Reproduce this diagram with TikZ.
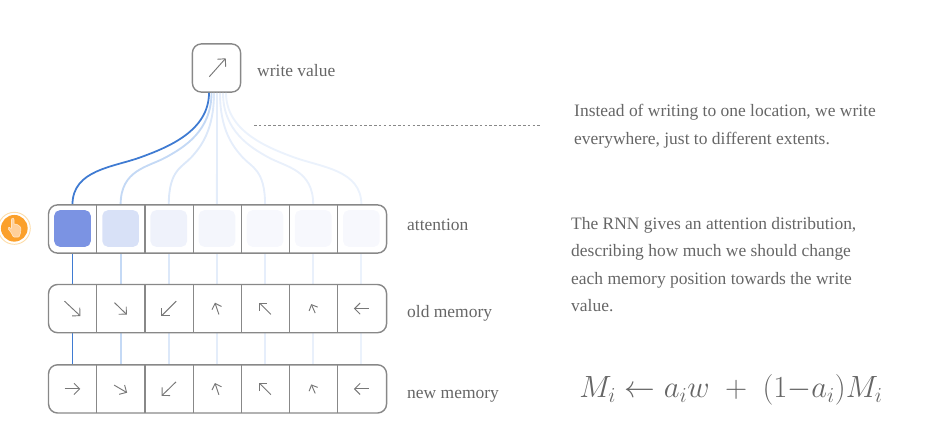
\documentclass[tikz,border=0pt]{standalone}
\usepackage{amsmath}
\usepackage{fontspec}
\setmainfont{Liberation Serif}
\usetikzlibrary{arrows.meta,calc}

\definecolor{framegray}{HTML}{888888}
\definecolor{textgray}{HTML}{666666}
\definecolor{arrowgray}{HTML}{777777}
\definecolor{linkone}{HTML}{3F7BD2}
\definecolor{linktwo}{HTML}{C4D9F5}
\definecolor{linkthree}{HTML}{DCE8F9}
\definecolor{linkfour}{HTML}{E4EDFA}
\definecolor{linkfive}{HTML}{E6EEFB}
\definecolor{linksix}{HTML}{E9F0FB}
\definecolor{linkseven}{HTML}{EBF2FC}
\definecolor{attnone}{HTML}{7B93E3}
\definecolor{attntwo}{HTML}{D8E1F7}
\definecolor{attnthree}{HTML}{EFF2FB}
\definecolor{attnfour}{HTML}{F4F6FC}
\definecolor{attnrest}{HTML}{F7F8FD}
\definecolor{handorange}{HTML}{FBA02B}
\definecolor{handring}{HTML}{FDDDAA}
\definecolor{handfill}{HTML}{FFD09A}
\definecolor{handline}{HTML}{FFE6C6}

\tikzset{
    cellbox/.style={minimum width=1.4445cm, minimum height=1.446cm, inner sep=0pt},
    rowframe/.style={draw=framegray, line width=1.2pt, rounded corners=0.27cm, minimum width=10.14cm, minimum height=1.446cm, inner sep=0pt},
    divider/.style={draw=framegray, line width=1pt},
    attncell/.style={rounded corners=0.17cm, minimum size=1.1cm, inner sep=0pt},
    labeltext/.style={text=textgray, font=\fontsize{14.9}{18}\selectfont, anchor=base west, inner sep=0pt},
    notetext/.style={text=textgray, font=\fontsize{14.9}{23.5}\selectfont, anchor=north west, inner sep=0pt, align=left},
    vec/.style={arrowgray, line width=0.8pt, -{Straight Barb[length=#1*1pt, width=#1*2pt]}},
    vec/.default=4.8
}

\begin{document}
\begin{tikzpicture}[x=0.03cm,y=-0.03cm]
        \useasboundingbox (0,0) rectangle (943,444);

        % Write value box
        \node[rowframe, minimum width=1.446cm] (write) at (216.5,68) {};
        \coordinate (writetail) at (209.3,76.7);
        \coordinate (writehead) at (225.7,58.3);
        \draw[vec] (writetail) -- (writehead);
        \node[labeltext] (writelabel) at (257,76) {write value};

        % Dashed leader
        \coordinate (leaderstart) at (254,125.5);
        \coordinate (leaderend) at (541,125.5);
        \draw[framegray, line width=0.6pt, dash pattern=on 2.2pt off 1.9pt] (leaderstart) -- (leaderend);

        % Cell nodes of the three rows
        \foreach \i in {1,...,7} {
            \node[cellbox] (attn\i) at ({48.4+48.15*(\i-0.5)},229) {};
            \node[cellbox] (old\i) at ({48.4+48.15*(\i-0.5)},308.6) {};
            \node[cellbox] (new\i) at ({48.4+48.15*(\i-0.5)},388.9) {};
        }

        % Links, faintest first
        \foreach \i/\off/\col/\wid in {7/9.5/linkseven/1.6pt, 6/6.5/linksix/1.6pt, 5/3.5/linkfive/1.6pt, 4/0.5/linkfour/1.6pt, 3/-2.5/linkthree/1.6pt, 2/-5/linktwo/1.6pt, 1/-7.5/linkone/1.5pt} {
            \coordinate (start\i) at ($(write.south)+(\off,0)$);
            \path let \p1=(start\i), \p2=(attn\i.north) in
                coordinate (mid\i) at ({0.5*(\x1+\x2)},{0.5*(\y1+\y2)-8.5*0.03cm})
                coordinate (handle\i) at ({0.2*(\x1-\x2)},0);
            \draw[\col, line width=\wid] (start\i)
                .. controls ($(start\i)+(0,38)$) and ($(mid\i)+(handle\i)+(0,-10)$) .. (mid\i)
                .. controls ($(mid\i)-(handle\i)+(0,10)$) and ($(attn\i.north)+(0,-35)$) .. (attn\i.north);
            \draw[\col, line width=\wid] (attn\i.south) -- (old\i.north);
            \draw[\col, line width=\wid] (old\i.south) -- (new\i.north);
        }

        % Row frames and dividers
        \foreach \row in {attn,old,new} {
            \node[rowframe] (\row frame) at (\row 4 -| 217.55,0) {};
            \foreach \i in {1,...,6} {
                \draw[divider] (\row\i.north east) -- (\row\i.south east);
            }
        }

        % Attention weights
        \foreach \i/\col in {1/attnone, 2/attntwo, 3/attnthree, 4/attnfour, 5/attnrest, 6/attnrest, 7/attnrest} {
            \node[attncell, fill=\col] (weight\i) at ($(attn\i)+(0,-0.5)$) {};
        }

        % Memory arrows, half vectors from the cell centre
        \foreach \cell/\dx/\dy/\tip in {old1/8/7.5/4.8, old2/6.2/6/4.6, old3/-7.5/7.5/4.8, old4/-2/-5.9/4.3, old5/-5.8/-5.8/4.6, old6/-2/-4.5/4, old7/-7.5/0/4.8,
                new1/7.8/0/4.8, new2/6.5/3.8/4.6, new3/-7.2/7/4.8, new4/-2/-5.9/4.3, new5/-5.8/-5.8/4.6, new6/-2/-4.5/4, new7/-7.5/0/4.8} {
            \draw[vec=\tip] ($(\cell)-(\dx,\dy)$) -- ($(\cell)+(\dx,\dy)$);
        }

        % Row labels
        \node[labeltext] (attnlabel) at (407,230) {attention};
        \node[labeltext] (oldlabel) at (407,317) {old memory};
        \node[labeltext] (newlabel) at (407,398) {new memory};

        % Notes
        \node[notetext] (notewrite) at (574,104) {Instead of writing to one location, we write\\everywhere, just to different extents.};
        \node[notetext] (noteattn) at (571,217) {The RNN gives an attention distribution,\\describing how much we should change\\each memory position towards the write\\value.};
        \node[text=textgray, inner sep=0pt, font=\fontsize{25}{30}\selectfont, scale=1.053, transform shape] (formula) at (731,390) {$M_i \leftarrow a_i w \;+\; (1{-}a_i)M_i$};

        % Hand marker
        \node[circle, fill=handorange, minimum size=0.8cm, inner sep=0pt] (handdot) at (14.3,228.3) {};
        \node[circle, draw=handring, line width=0.8pt, minimum size=0.96cm, inner sep=0pt] (handmark) at (handdot) {};
        \fill[handfill, draw=handline, line width=0.5pt, rounded corners=0.6pt] (11.5,219) -- (12.7,217.8) -- (14,219) -- (14,224.5) -- (16,224) -- (18,225) -- (20,226.5) -- (21,228) -- (20.5,233) -- (19,237) -- (13.5,237) -- (11,232.5) -- (8,228.5) -- (9,227) -- (11.5,229) -- cycle;
\end{tikzpicture}
\end{document}
